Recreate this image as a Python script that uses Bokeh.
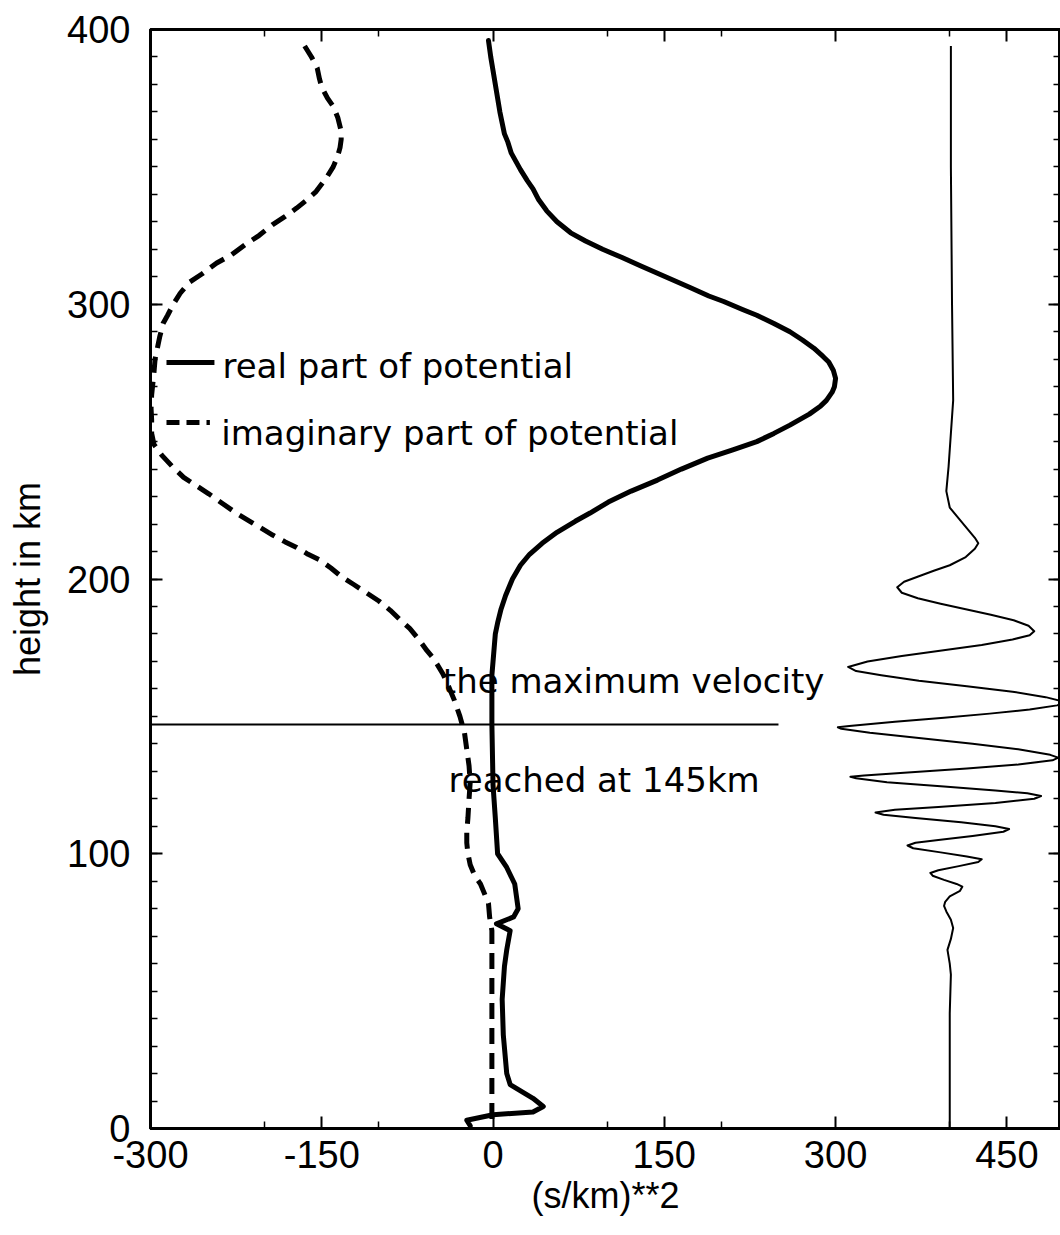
from bokeh.plotting import figure
from bokeh.models import LinearAxis, FixedTicker, Range1d
from bokeh.embed import file_html
from bokeh.resources import INLINE
from bokeh.core.properties import value

# ---------------- data ----------------
# real part of potential: height (km) / value ((s/km)**2)
real_h = [396, 390, 385, 380, 375, 370, 366, 362, 359, 355, 352, 349, 345, 342, 338, 334, 330,
          326, 323, 320, 317, 314, 310, 306, 303, 301, 298, 296, 293, 290, 287, 284, 281, 279,
          276, 273, 270, 268, 265, 263, 260, 256, 253, 250, 247, 244, 240, 236, 232, 228, 224,
          221, 217, 213, 209, 205, 200, 194, 189, 184, 180, 175, 170, 165, 147, 125, 113,
          100, 95, 89, 80, 77, 74.5, 72, 65, 59, 47, 34, 20, 16, 11, 8, 6, 5, 3, 1]
real_v = [-4, -2, 0, 2, 4, 6, 8, 10, 13, 16, 20, 24, 30, 35, 40, 47, 56,
          68, 81, 96, 113, 129, 151, 173, 189, 202, 219, 231, 246, 260, 271, 281, 289, 294,
          298, 300, 299, 297, 292, 287, 277, 260, 246, 231, 210, 188, 165, 144, 121, 101, 85,
          72, 56, 43, 32, 24, 17, 11, 7, 4, 2, 1, 0, -1, -1, 0, 2,
          4, 12, 19, 22, 18, 3, 15, 12, 10, 8, 9, 12, 15, 35, 44, 35, 0, -23, -20]

# imaginary part of potential
imag_h = [394, 390, 386, 382, 379, 375, 372, 368, 363, 360, 357, 354, 350, 346, 341, 338, 335,
          332, 329, 325, 322, 318, 315, 311, 308, 304, 300, 296, 293, 288, 284, 280, 275, 271,
          267, 262, 258, 253, 249, 245, 241, 237, 234, 231, 227.5, 224, 221, 218.5, 216, 213.5,
          211.5, 209, 207, 204, 200.6, 198, 195, 192, 188.6, 185, 182, 178, 174, 171.5, 169,
          165.5, 162, 156, 150, 144, 138, 132, 126, 120, 113, 108, 104, 100, 96, 92, 89, 85,
          82, 77, 72, 0]
imag_v = [-165, -159, -154, -152, -150, -145, -140, -136, -133, -133, -134, -136, -140, -146,
          -155, -163, -172, -182, -193, -205, -216, -229, -242, -255, -266, -274, -280, -285,
          -289, -292, -294, -296, -297, -298, -299, -299.5, -299, -299, -297, -290, -281, -271,
          -260, -249, -237, -225, -213, -203, -193, -182, -172, -162, -152, -142, -132, -122,
          -111, -100, -90, -81, -73, -65, -58, -53, -49, -44, -40, -34, -29, -25, -23, -21,
          -20, -21, -22, -23, -23, -22, -20, -16, -11, -7, -4, -3, -1, -1]

# velocity trace (drawn around 400 on the x scale)
trace_h = [394, 350, 300, 265, 241, 232, 226, 222, 218, 215, 213, 211, 208, 205, 203, 201, 199,
           197, 195, 193, 191, 189, 187, 185, 183, 181, 179.5, 178, 176, 174, 172, 170, 168,
           166.5, 165, 163, 161, 159, 157, 155.5, 155, 154, 152.5, 151, 149.5, 148, 146.5, 146,
           145.5, 144, 142, 140, 138, 136, 135, 134, 132.5, 131, 129.5, 128.5, 128, 127.5, 126,
           124.5, 123, 122, 121, 120, 118.5, 117, 116, 115, 114.2, 113, 111.5, 110, 109, 108,
           106.5, 105, 104, 103, 102, 100.5, 99, 98, 97, 95.5, 94, 93, 92, 90.5, 89, 88, 86.5,
           84.5, 82.5, 81, 79, 76, 73, 69, 65, 60, 56, 42, 0]
trace_v = [401, 401, 402, 403, 399, 397, 400, 408, 416, 422, 425, 422, 414, 400, 386, 373, 360,
           354, 358, 372, 392, 414, 436, 456, 469, 474, 470, 455, 428, 393, 358, 328, 311,
           318, 340, 373, 415, 455, 484, 498, 500, 494, 470, 435, 395, 352, 312, 302,
           305, 330, 375, 420, 460, 488, 495, 490, 460, 415, 360, 325, 313, 318, 345,
           395, 440, 468, 480, 474, 440, 390, 352, 335, 342, 370, 410, 440, 452, 447,
           420, 390, 370, 363, 368, 392, 415, 428, 425, 408, 390, 383, 385, 395, 406, 411, 409,
           400, 396, 395, 397, 401, 403, 401, 398, 400, 401, 400, 400]

# horizontal marker line (maximum velocity)
vel_line_x = [-300, 250]
vel_line_h = [147, 147]

# legend entries (sample lines + labels)
leg_real_x = [-286, -244]
leg_real_h = [278.8, 278.8]
leg_imag_x = [-286, -248]
leg_imag_h = [257, 257]
leg_text_x = [-237, -238]
leg_text_h = [277.5, 253]
leg_text = ["real part of potential", "imaginary part of potential"]

# annotation texts
note_x = [-44, -39]
note_h = [163, 127]
note_text = ["the maximum velocity", "reached at 145km"]

# axes
x_ticks = [-300, -150, 0, 150, 300, 450]
x_tick_labels = ["-300", "-150", "0", "150", "300", "450"]
x_minor = [-200, -100, 100, 200, 400]
y_ticks = [0, 100, 200, 300, 400]
y_tick_labels = ["0", "100", "200", "300", "400"]
y_minor = list(range(0, 401, 10))

# ---------------- figure ----------------
p = figure(width=1060, height=1235, output_backend="svg", toolbar_location=None,
           x_range=Range1d(-300, 497), y_range=Range1d(0, 400),
           min_border_left=150, min_border_right=0, min_border_top=29, min_border_bottom=107)
p.xgrid.visible = False
p.ygrid.visible = False
p.outline_line_color = "black"
p.outline_line_width = 3
p.background_fill_color = "white"
p.border_fill_color = "white"

TICK_FONT = "Liberation Sans"

def style_axis(ax, ticks, labels=None):
    ax.axis_line_color = "black"
    ax.axis_line_width = 3
    ax.major_tick_in = 12
    ax.major_tick_out = 0
    ax.minor_tick_in = 7
    ax.minor_tick_out = 0
    ax.major_tick_line_width = 2
    ax.minor_tick_line_width = 1.5
    ax.major_tick_line_color = "black"
    ax.minor_tick_line_color = "black"
    if labels is not None:
        ax.major_label_overrides = {t: s for t, s in zip(ticks, labels)}
        ax.major_label_text_font = TICK_FONT
        ax.major_label_text_font_size = "38px"
        ax.major_label_text_color = "black"
    else:
        ax.major_label_overrides = {t: "" for t in ticks}
        ax.major_label_text_font_size = "1px"
        ax.major_label_standoff = 0

xa = p.xaxis[0]
xa.ticker = FixedTicker(ticks=x_ticks, minor_ticks=x_minor)
style_axis(xa, x_ticks, x_tick_labels)
xa.major_label_standoff = 12
xa.axis_label = "(s/km)**2"
xa.axis_label_text_font = TICK_FONT
xa.axis_label_text_font_size = "36px"
xa.axis_label_text_font_style = "normal"
xa.axis_label_text_color = "black"
xa.axis_label_standoff = 4

ya = p.yaxis[0]
ya.ticker = FixedTicker(ticks=y_ticks, minor_ticks=y_minor)
style_axis(ya, y_ticks, y_tick_labels)
ya.major_label_standoff = 20
ya.axis_label = "height in km"
ya.axis_label_text_font = TICK_FONT
ya.axis_label_text_font_size = "36px"
ya.axis_label_text_font_style = "normal"
ya.axis_label_text_color = "black"
ya.axis_label_standoff = 16

top = LinearAxis(ticker=FixedTicker(ticks=x_ticks, minor_ticks=x_minor))
style_axis(top, x_ticks)
p.add_layout(top, "above")
right = LinearAxis(ticker=FixedTicker(ticks=y_ticks, minor_ticks=y_minor))
style_axis(right, y_ticks)
p.add_layout(right, "right")

# ---------------- marks ----------------
p.line(real_v, real_h, line_color="black", line_width=5, line_join="round", line_cap="round")
p.line(imag_v, imag_h, line_color="black", line_width=5, line_dash="16 9", line_join="round")
p.line(trace_v, trace_h, line_color="black", line_width=2, line_join="round")
p.line(vel_line_x, vel_line_h, line_color="black", line_width=2)

p.line(leg_real_x, leg_real_h, line_color="black", line_width=5)
p.line(leg_imag_x, leg_imag_h, line_color="black", line_width=5, line_dash="13 7")
p.text(x=leg_text_x, y=leg_text_h, text=leg_text, text_font=value("DejaVu Sans"),
       text_font_size="34px", text_color="black", text_baseline="alphabetic", text_align="left")
p.text(x=note_x, y=note_h, text=note_text, text_font=value("DejaVu Sans"),
       text_font_size="34px", text_color="black", text_baseline="alphabetic", text_align="left")

open("out.html", "w").write(file_html(p, INLINE))
